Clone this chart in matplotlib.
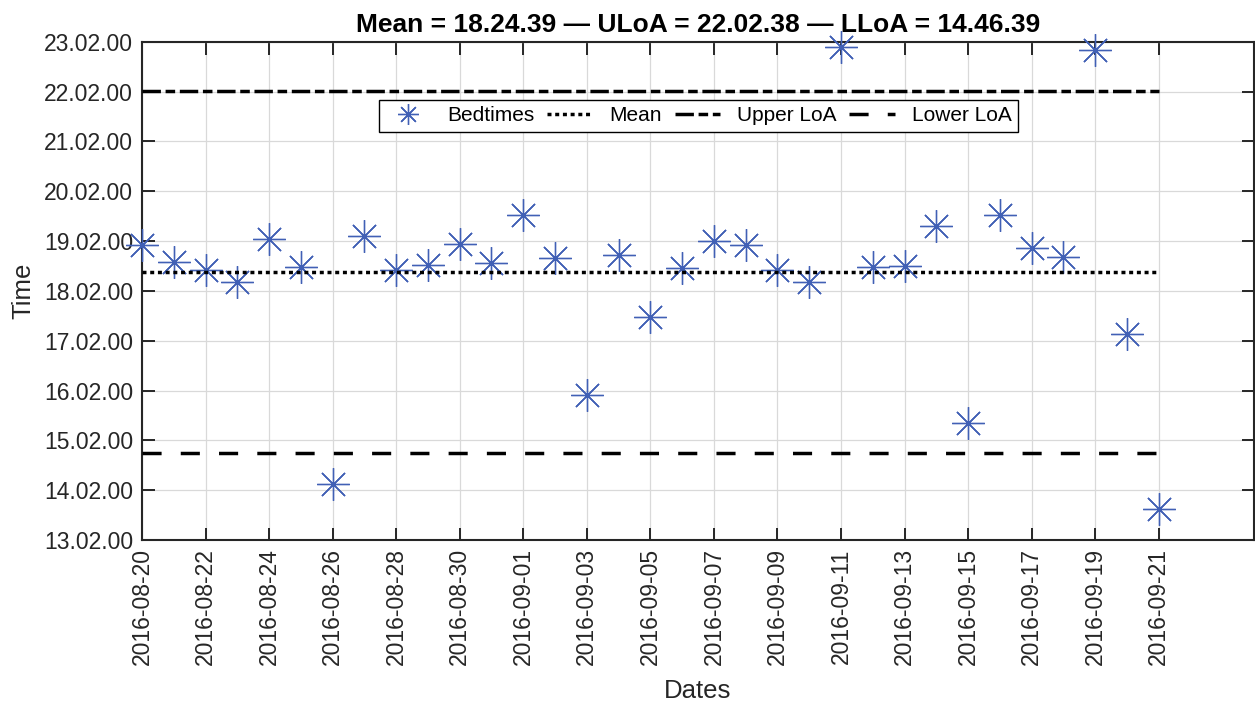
import matplotlib
matplotlib.use("Agg")
import matplotlib.pyplot as plt
import matplotlib.dates as mdates
import numpy as np

plt.rcParams['font.family'] = ['Liberation Sans', 'DejaVu Sans']

# Nightly bedtimes
dates = [
    "2016-08-20", "2016-08-21", "2016-08-22", "2016-08-23", "2016-08-24",
    "2016-08-25", "2016-08-26", "2016-08-27", "2016-08-28", "2016-08-29",
    "2016-08-30", "2016-08-31", "2016-09-01", "2016-09-02", "2016-09-03",
    "2016-09-04", "2016-09-05", "2016-09-06", "2016-09-07", "2016-09-08",
    "2016-09-09", "2016-09-10", "2016-09-11", "2016-09-12", "2016-09-13",
    "2016-09-14", "2016-09-15", "2016-09-16", "2016-09-17", "2016-09-18",
    "2016-09-19", "2016-09-20", "2016-09-21",
]
bedtimes = [
    "18:57", "18:37", "18:27", "18:13", "19:05",
    "18:31", "14:10", "19:08", "18:27", "18:33",
    "18:59", "18:35", "19:33", "18:42", "15:56",
    "18:45", "17:30", "18:29", "19:02", "18:57",
    "18:27", "18:13", "22:56", "18:31", "18:32",
    "19:20", "15:23", "19:33", "18:54", "18:43",
    "22:52", "17:10", "13:39",
]

# Summary statistics
mean_time = "18:24:39"
upper_loa = "22:02:38"
lower_loa = "14:46:39"

# Axis ticks
ytick_times = ["13:02:00", "14:02:00", "15:02:00", "16:02:00", "17:02:00", "18:02:00",
               "19:02:00", "20:02:00", "21:02:00", "22:02:00", "23:02:00"]
xtick_dates = ["2016-08-20", "2016-08-22", "2016-08-24", "2016-08-26", "2016-08-28",
               "2016-08-30", "2016-09-01", "2016-09-03", "2016-09-05", "2016-09-07",
               "2016-09-09", "2016-09-11", "2016-09-13", "2016-09-15", "2016-09-17",
               "2016-09-19", "2016-09-21"]
x_range = ["2016-08-20", "2016-09-24"]


def to_hours(s):
    parts = [int(p) for p in s.split(":")]
    while len(parts) < 3:
        parts.append(0)
    return parts[0] + parts[1] / 60 + parts[2] / 3600


def to_num(d):
    return mdates.date2num(np.datetime64(d))


x = [to_num(d) for d in dates]
y = [to_hours(t) for t in bedtimes]
mean_h = to_hours(mean_time)
ul_h = to_hours(upper_loa)
ll_h = to_hours(lower_loa)

W, H = 1255, 703
fig = plt.figure(figsize=(W / 100, H / 100), dpi=100)
left, right, top, bottom = 142, 1254, 41.7, 540
ax = fig.add_axes([left / W, (H - bottom) / H, (right - left) / W, (bottom - top) / H])

blue = '#4160b5'
ax.plot(x, y, linestyle='none', marker=(8, 2, 0), markersize=23.5,
        markeredgewidth=0.95, color=blue, clip_on=False, zorder=3, label='Bedtimes')
ax.plot(x, y, linestyle='none', marker='o', markersize=2.6, markeredgewidth=0,
        color=blue, clip_on=False, zorder=3)

lw = 2.5
x0, x1 = x[0], x[-1]
ax.plot([x0, x1], [mean_h, mean_h], color='black', lw=lw,
        linestyle=(0, (1.15, 1.07)), zorder=4, label='Mean')
ax.plot([x0, x1], [ul_h, ul_h], color='black', lw=lw,
        linestyle=(0, (5.3, 1.35, 2.75, 1.35)), zorder=4, label='Upper LoA')
ax.plot([x0, x1], [ll_h, ll_h], color='black', lw=lw,
        linestyle=(0, (5.5, 5.52)), zorder=4, label='Lower LoA')

ax.set_xlim(to_num(x_range[0]), to_num(x_range[1]))
ax.set_ylim(to_hours(ytick_times[0]), to_hours(ytick_times[-1]))

ax.set_yticks([to_hours(t) for t in ytick_times])
ax.set_yticklabels([t.replace(":", ".") for t in ytick_times])
ax.set_xticks([to_num(d) for d in xtick_dates])
ax.set_xticklabels(xtick_dates, rotation=90)

tick_color = '#262626'
ax.tick_params(axis='both', which='major', direction='in', length=9, width=1.4,
               colors=tick_color, labelsize=16.5, top=True, right=True)
ax.tick_params(axis='y', pad=6.5)
ax.tick_params(axis='x', pad=6)
for sp in ax.spines.values():
    sp.set_linewidth(1.5)
    sp.set_color(tick_color)

ax.grid(True, color='#d9d9d9', linewidth=0.9, zorder=0)
ax.set_axisbelow(True)

ax.set_xlabel('Dates', fontsize=18.5, color=tick_color, labelpad=10)
ax.set_ylabel('Time', fontsize=18.5, color=tick_color, labelpad=6)

title = "Mean = {} \u2014 ULoA = {} \u2014 LLoA = {}".format(
    mean_time.replace(":", "."), upper_loa.replace(":", "."), lower_loa.replace(":", "."))
ax.set_title(title, fontsize=19, fontweight='bold', pad=7)

leg = ax.legend(loc='center', bbox_to_anchor=(0.5, 0.851), ncol=4, fontsize=15,
                frameon=True, fancybox=False, framealpha=1, edgecolor='black',
                handlelength=2.2, handletextpad=0.8, columnspacing=0.6,
                borderpad=0.3, markerscale=0.64)
leg.get_frame().set_linewidth(1.0)

fig.savefig('out.png', dpi=100)
